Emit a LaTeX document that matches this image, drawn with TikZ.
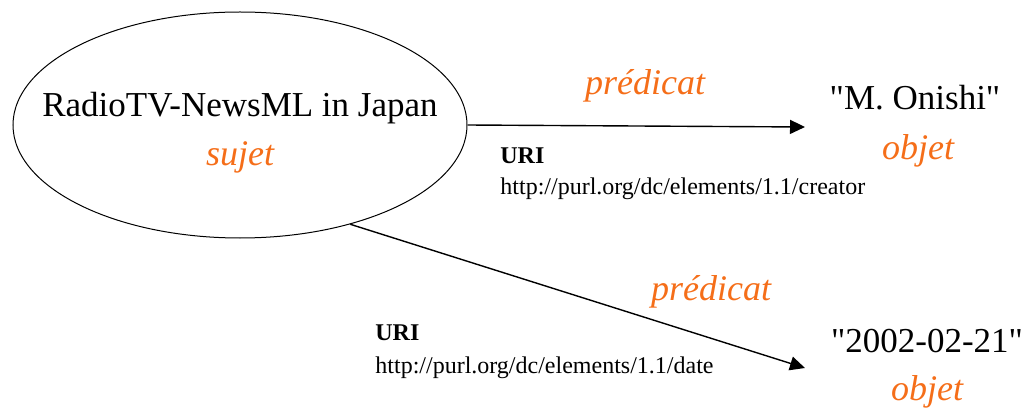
\documentclass[tikz,border=0pt]{standalone}
\usepackage{fontspec}
\setmainfont{Liberation Serif}[Ligatures=TeXOff]
\usetikzlibrary{shapes.geometric, arrows.meta, positioning}
\definecolor{rdfOrange}{RGB}{245,110,25}

\begin{document}
\begin{tikzpicture}[
    x=0.5pt, y=-0.5pt,
    resource/.style={draw, ellipse, line width=0.5pt, inner sep=0pt, minimum width=227pt, minimum height=113pt},
    literal/.style={font=\fontsize{17.5}{20}\selectfont, inner sep=0pt, anchor=base},
    role/.style={font=\fontsize{18}{20}\selectfont\itshape, text=rdfOrange, inner sep=0pt, anchor=base},
    urihead/.style={font=\fontsize{12}{14}\selectfont\bfseries, inner sep=0pt, anchor=base west},
    uri/.style={font=\fontsize{12}{14}\selectfont, inner sep=0pt, anchor=base west},
    arrow/.style={-{Triangle[length=7.5pt, width=7pt]}, line width=0.7pt}
]
\useasboundingbox (0,0) rectangle (1026,411);
\node[resource] (subj) at (240,125) {};
\node[literal] (subjname) at (240,117) {RadioTV-NewsML in Japan};
\node[role] (subjrole) at (240,166) {sujet};

\node[literal] (creator) at (915,110) {"M. Onishi"};
\node[role] (creatorrole) at (918,160) {objet};
\node[literal] (date) at (927,352) {"2002-02-21"};
\node[role] (daterole) at (927,400) {objet};

\coordinate (tipcreator) at (805,127);
\coordinate (tipdate) at (805,368);

\node[role] (pred1) at (645,95) {prédicat};
\node[urihead] (uri1) at (500,163) {URI};
\node[uri] (url1) at (500,195) {http://purl.org/dc/elements/1.1/creator};
\node[role] (pred2) at (711,300) {prédicat};
\node[urihead] (uri2) at (375,340) {URI};
\node[uri] (url2) at (375,373) {http://purl.org/dc/elements/1.1/date};

\draw[arrow] (subj.east) -- (tipcreator);
\draw[arrow] (subj.-42) -- (tipdate);
\end{tikzpicture}
\end{document}
